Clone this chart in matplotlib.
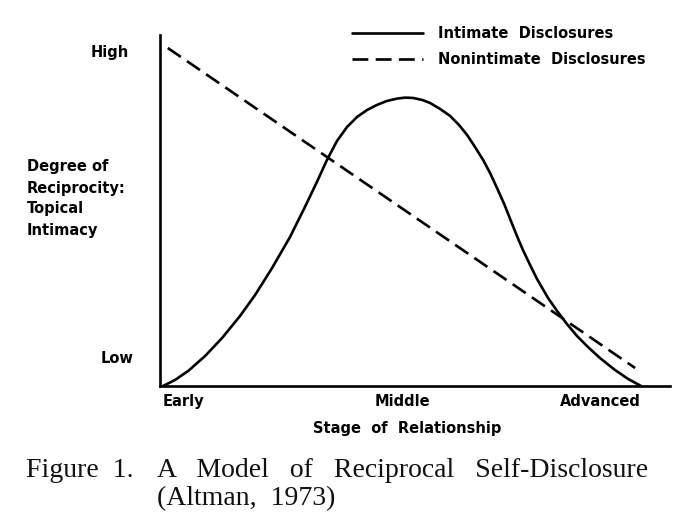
#!/usr/bin/env python3
"""
Altman (1973) model of reciprocal self-disclosure
"""

import matplotlib
matplotlib.use("Agg")
import matplotlib.pyplot as plt

# stage of relationship: 0 = early, 1 = middle, 2 = advanced
# degree of reciprocity: 1 = high
intimate_x = [0, 0.050, 0.105, 0.176, 0.247, 0.322, 0.385, 0.456, 0.531, 0.594,
              0.644, 0.686, 0.728, 0.770, 0.812, 0.854, 0.895, 0.937, 0.979, 1.013,
              1.046, 1.084, 1.117, 1.159, 1.201, 1.238, 1.272, 1.305, 1.339, 1.368,
              1.397, 1.427, 1.452, 1.481, 1.506, 1.536, 1.565, 1.611, 1.649, 1.690,
              1.732, 1.778, 1.828, 1.891, 1.946, 2.0]
intimate_y = [0, 0.018, 0.045, 0.090, 0.144, 0.210, 0.273, 0.354, 0.447, 0.538,
              0.613, 0.679, 0.736, 0.778, 0.808, 0.829, 0.844, 0.856, 0.863, 0.866,
              0.865, 0.859, 0.850, 0.832, 0.811, 0.784, 0.754, 0.718, 0.679, 0.640,
              0.595, 0.547, 0.502, 0.450, 0.408, 0.363, 0.321, 0.264, 0.225, 0.186,
              0.150, 0.117, 0.084, 0.048, 0.021, 0]

nonintimate_x = [0.02, 1.975]
nonintimate_y = [1.015, 0.054]

stage_ticks = [0, 1, 2]
stage_labels = ['Early', 'Middle', 'Advanced']
level_ticks = [0.084, 1.0]
level_labels = ['Low', 'High']

W, H = 683, 524
fig = plt.figure(figsize=(W / 100, H / 100), dpi=100)
fig.patch.set_facecolor('white')

# axes box in pixels: left 160, right 670, top 35, bottom 386
ax = fig.add_axes([160 / W, 1 - 386 / H, 510 / W, 351 / H])
ax.set_xlim(-0.0126, 2.121)
ax.set_ylim(0, 1.054)

lw = 1.9
ax.plot(intimate_x, intimate_y, color='black', linewidth=lw,
        solid_joinstyle='round', solid_capstyle='round',
        label='Intimate  Disclosures')
ax.plot(nonintimate_x, nonintimate_y, color='black', linewidth=lw,
        dashes=(6, 2.8), label='Nonintimate  Disclosures')

for side in ['top', 'right']:
    ax.spines[side].set_visible(False)
for side in ['left', 'bottom']:
    ax.spines[side].set_linewidth(lw)
    ax.spines[side].set_color('black')

font = dict(family='DejaVu Sans', weight='bold', size=10.5)

ax.set_xticks(stage_ticks)
ax.set_xticklabels(stage_labels, fontdict=font)
ax.tick_params(axis='x', length=0, pad=6)
for lab, ha in zip(ax.get_xticklabels(), ['left', 'center', 'right']):
    lab.set_horizontalalignment(ha)
ax.set_yticks([])

ylab_x = [-0.051, -0.061]
for y, txt, xo in zip(level_ticks, level_labels, ylab_x):
    ax.text(xo, y, txt, transform=ax.get_yaxis_transform(),
            ha='right', va='center', **font)

fig.text(27 / W, 1 - 198.5 / H, 'Degree of\nReciprocity:\nTopical\nIntimacy',
         ha='left', va='center', multialignment='left', linespacing=1.5, **font)

fig.text(407 / W, 1 - 428 / H, 'Stage  of  Relationship',
         ha='center', va='center', **font)

leg = fig.legend(loc='upper left', bbox_to_anchor=(352 / W, 1 - 26 / H),
                 frameon=False, borderpad=0, borderaxespad=0,
                 handlelength=4.9, handletextpad=1.0, labelspacing=0.75,
                 prop=dict(family='DejaVu Sans', weight='bold', size=10.5))

# caption
cap = dict(family='Liberation Serif', size=20, color='#111111')
fig.text(26 / W, 1 - 477 / H, 'Figure  1.', ha='left', va='baseline', **cap)
fig.text(157 / W, 1 - 477 / H, 'A   Model   of   Reciprocal   Self-Disclosure',
         ha='left', va='baseline', **cap)
fig.text(157 / W, 1 - 505 / H, '(Altman,  1973)', ha='left', va='baseline', **cap)

fig.savefig('out.png', dpi=100, facecolor='white')
plt.close(fig)
